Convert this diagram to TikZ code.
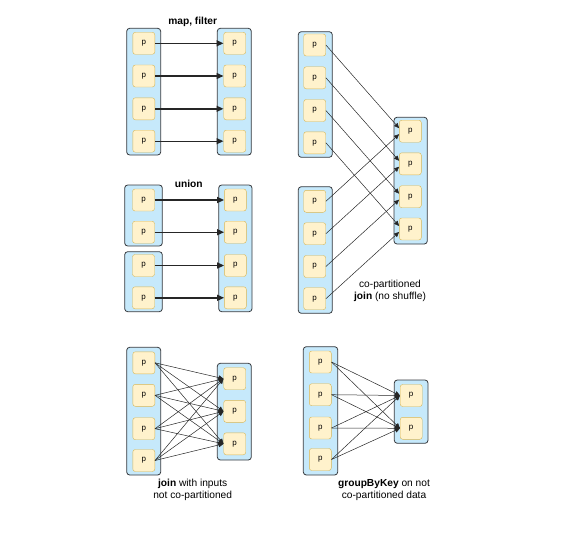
\documentclass[tikz,border=0pt]{standalone}
\usepackage{fontspec}
\setmainfont{Liberation Sans}
\usetikzlibrary{arrows.meta}
\definecolor{boxblue}{HTML}{C6E9FB}
\definecolor{boxline}{HTML}{36393D}
\definecolor{partfill}{HTML}{FFF2CC}
\definecolor{partline}{HTML}{D6B656}
\tikzset{
 part/.style={draw=partline,fill=partfill,rounded corners=2.5pt,minimum size=22pt,inner sep=0pt,font=\fontsize{8}{9}\selectfont},
 box/.style={draw=boxline,fill=boxblue,rounded corners=3pt,line width=0.8pt},
 flow/.style={-{Triangle[length=7pt,width=6pt]},line width=1.4pt,draw=black!85},
 cross/.style={-{Triangle[length=5pt,width=4.5pt]},line width=0.5pt,draw=black!85},
}
\begin{document}
\begin{tikzpicture}[x=1pt,y=-1pt,font=\fontsize{10.2}{12}\selectfont]
 \useasboundingbox (0,0) rectangle (581,535);
 % map, filter
 \draw[box] (126.7,28.3) rectangle (160.7,155);
 \draw[box] (217.3,28.3) rectangle (251.3,155);
 \foreach \i/\y in {1/43.3,2/76,3/108.8,4/141.2} {
  \node[part] (mfa\i) at (143.8,\y) {p};
  \node[part] (mfb\i) at (234.7,\y) {p};
  \draw[flow] (mfa\i) -- (mfb\i);
 }
 \node[font=\fontsize{10.2}{12}\selectfont\bfseries] (mflabel) at (192.7,21.5) {map, filter};
 % union
 \draw[box] (124.7,185) rectangle (162.3,246);
 \draw[box] (124.7,251.7) rectangle (162.3,311.7);
 \draw[box] (218.7,185) rectangle (252,311.7);
 \foreach \i/\y in {1/200,2/232.2,3/265.5,4/297.8} {
  \node[part] (una\i) at (143.5,\y) {p};
  \node[part] (unb\i) at (235.3,\y) {p};
  \draw[flow] (una\i) -- (unb\i);
 }
 \node[font=\fontsize{10.2}{12}\selectfont\bfseries] (unlabel) at (188.7,184) {union};
 % co-partitioned join
 \draw[box] (298.3,31.7) rectangle (332.3,157.3);
 \draw[box] (298.3,186.7) rectangle (332.3,313.3);
 \draw[box] (394,117.3) rectangle (427.3,244);
 \foreach \i/\ya/\yb/\yc in {1/45/201.3/131.2,2/77.8/233.7/163.8,3/110.5/266.5/196.7,4/142.8/298.7/229} {
  \node[part] (jxa\i) at (314.7,\ya) {p};
  \node[part] (jxb\i) at (314.7,\yb) {p};
  \node[part] (jxc\i) at (410.3,\yc) {p};
 }
 \foreach \i in {1,...,4} {
  \draw[cross] (jxa\i.east) -- ([yshift=3pt]jxc\i.west);
  \draw[cross] (jxb\i.east) -- ([yshift=-3pt]jxc\i.west);
 }
 \node[align=center] (jxlabel) at (390,291) {co-partitioned\\\textbf{join} (no shuffle)};
 % join, not co-partitioned
 \draw[box] (126.7,347.3) rectangle (160.7,475);
 \draw[box] (217.3,363.3) rectangle (251.3,460);
 \foreach \i/\y in {1/362.8,2/395.3,3/428.7,4/460.5}
  \node[part] (nja\i) at (143.8,\y) {p};
 \foreach \j/\y in {1/378.7,2/411.3,3/443.8}
  \node[part] (njb\j) at (234.7,\y) {p};
 \foreach \i in {1,...,4}
  \foreach \j in {1,2,3}
   \draw[cross] (nja\i.east) -- (njb\j.west);
 \node[align=center] (njlabel) at (192.7,489.7) {\textbf{join} with inputs\\not co-partitioned};
 % groupByKey
 \draw[box] (303.3,346.7) rectangle (337.7,475);
 \draw[box] (394.3,380) rectangle (428,443.3);
 \foreach \i/\y in {1/362,2/394.7,3/428,4/459.5}
  \node[part] (gka\i) at (320.3,\y) {p};
 \foreach \j/\y in {1/395.5,2/428.3}
  \node[part] (gkb\j) at (411.2,\y) {p};
 \foreach \i in {1,...,4}
  \foreach \j in {1,2}
   \draw[cross] (gka\i.east) -- (gkb\j.west);
 \node[align=center] (gklabel) at (384,489.7) {\textbf{groupByKey} on not\\co-partitioned data};
\end{tikzpicture}
\end{document}
